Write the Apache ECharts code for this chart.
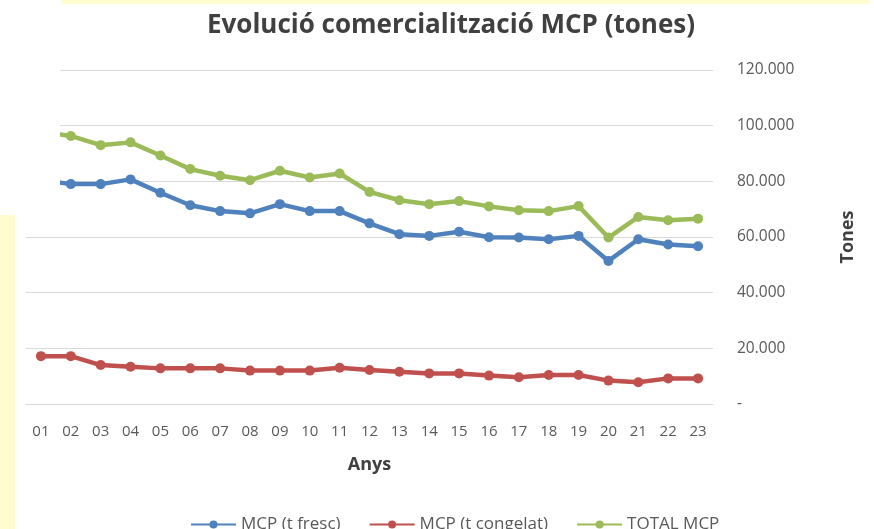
<!DOCTYPE html>
<html>
<head>
<meta charset="utf-8">
<script src="https://cdn.jsdelivr.net/npm/echarts@6/dist/echarts.min.js"></script>
<style>
html,body{margin:0;padding:0;background:#fff;}
#c{width:874px;height:529px;}
</style>
</head>
<body>
<div id="c"></div>
<script>
var years = ['01','02','03','04','05','06','07','08','09','10','11','12','13','14','15','16','17','18','19','20','21','22','23'];
var fresc = [80500, 79000, 79000, 80700, 75900, 71400, 69300, 68500, 71800, 69300, 69300, 64900, 61000, 60400, 61900, 59900, 59800, 59200, 60400, 51400, 59200, 57300, 56700];
var congelat = [17200, 17200, 14000, 13400, 12800, 12800, 12800, 12000, 12000, 12000, 13000, 12200, 11600, 11000, 11000, 10200, 9600, 10400, 10400, 8400, 7800, 9200, 9200];
var total = [97800, 96300, 93000, 94000, 89300, 84400, 82000, 80400, 83800, 81400, 82800, 76200, 73200, 71800, 72900, 71000, 69600, 69300, 71100, 59800, 67200, 66000, 66600];
var seriesNames = ['MCP (t fresc)', 'MCP (t congelat)', 'TOTAL MCP'];
var colors = ['#4F81BD', '#C0504D', '#9BBB59'];

var FONT = '"Open Sans", "Liberation Sans", sans-serif';
function fmt(v){
  if (v === 0) return '-';
  return String(v).replace(/\B(?=(\d{3})+(?!\d))/g, '.');
}
function mk(name, data, color){
  return {
    name: name, type: 'line', data: data,
    symbol: 'circle', symbolSize: 10,
    lineStyle: {width: 4.5, color: color},
    itemStyle: {color: color},
    emphasis: {disabled: true}
  };
}
var chart = echarts.init(document.getElementById('c'), null, {renderer: 'canvas'});
chart.setOption({
  animation: false,
  backgroundColor: '#ffffff',
  color: colors,
  title: {
    text: 'Evolució comercialització MCP (tones)',
    left: 446, textAlign: 'center', top: 8,
    textStyle: {fontFamily: FONT, fontSize: 26, fontWeight: 'bold', color: '#404040'}
  },
  legend: {
    data: seriesNames,
    left: 190, top: 516, padding: 0,
    itemWidth: 45, itemHeight: 10, itemGap: 28,
    textStyle: {fontFamily: FONT, fontSize: 17, color: '#595959'}
  },
  grid: {left: 26, right: 161, top: 70, bottom: 125, containLabel: false},
  xAxis: {
    type: 'category', data: years, boundaryGap: true,
    name: 'Anys', nameLocation: 'middle', nameGap: 52,
    nameTextStyle: {fontFamily: FONT, fontSize: 18, fontWeight: 'bold', color: '#404040'},
    axisLine: {show: true, lineStyle: {color: '#D9D9D9', width: 1}},
    axisTick: {show: false},
    axisLabel: {fontFamily: FONT, fontSize: 15, color: '#595959', margin: 20, interval: 0}
  },
  yAxis: {
    type: 'value', position: 'right', min: 0, max: 120000, interval: 20000,
    name: 'Tones', nameLocation: 'middle', nameRotate: 90, nameGap: 126,
    nameTextStyle: {fontFamily: FONT, fontSize: 18, fontWeight: 'bold', color: '#404040'},
    axisLine: {show: false}, axisTick: {show: false},
    splitLine: {lineStyle: {color: '#D9D9D9', width: 1}},
    axisLabel: {fontFamily: FONT, fontSize: 15.5, color: '#595959', margin: 24, formatter: fmt}
  },
  graphic: [
    {type: 'rect', z: 100, shape: {x: 0, y: 0, width: 60, height: 215}, style: {fill: '#ffffff'}},
    {type: 'rect', z: 101, shape: {x: 61, y: 0, width: 808, height: 4}, style: {fill: '#FFFDCF'}},
    {type: 'rect', z: 101, shape: {x: 0, y: 215, width: 15, height: 314}, style: {fill: '#FFFDCF'}}
  ],
  series: [mk(seriesNames[0], fresc, colors[0]), mk(seriesNames[1], congelat, colors[1]), mk(seriesNames[2], total, colors[2])]
});
</script>
</body>
</html>
